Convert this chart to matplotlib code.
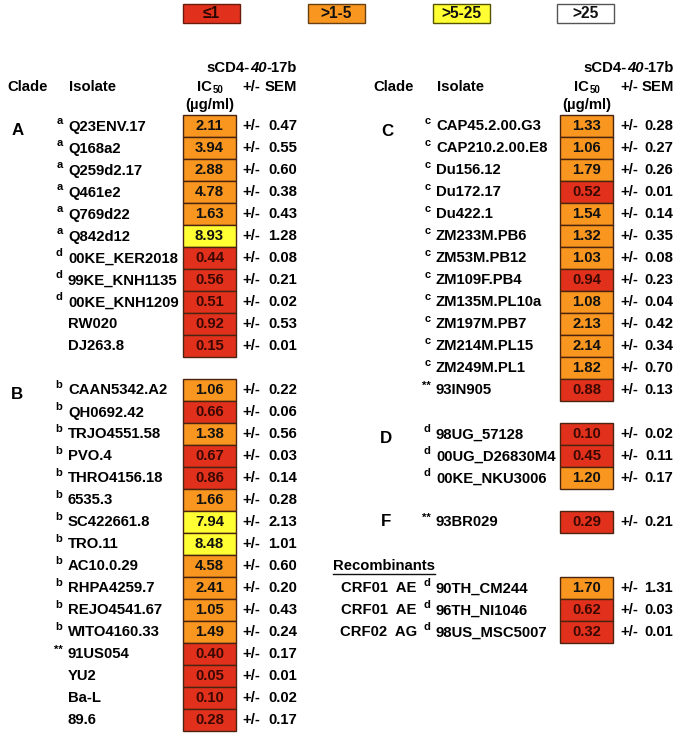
import matplotlib
matplotlib.use("Agg")
import matplotlib.pyplot as plt
from matplotlib.patches import Rectangle

plt.rcParams['font.family'] = ['Liberation Sans', 'DejaVu Sans']
plt.rcParams['font.weight'] = 'bold'

# ---------------- data ----------------
legend_labels = ["≤1", ">1-5", ">5-25", ">25"]

A_names = ["Q23ENV.17", "Q168a2", "Q259d2.17", "Q461e2", "Q769d22", "Q842d12",
           "00KE_KER2018", "99KE_KNH1135", "00KE_KNH1209", "RW020", "DJ263.8"]
A_sup = ["a", "a", "a", "a", "a", "a", "d", "d", "d", "", ""]
A_ic50 = [2.11, 3.94, 2.88, 4.78, 1.63, 8.93, 0.44, 0.56, 0.51, 0.92, 0.15]
A_sem = [0.47, 0.55, 0.60, 0.38, 0.43, 1.28, 0.08, 0.21, 0.02, 0.53, 0.01]

B_names = ["CAAN5342.A2", "QH0692.42", "TRJO4551.58", "PVO.4", "THRO4156.18",
           "6535.3", "SC422661.8", "TRO.11", "AC10.0.29", "RHPA4259.7",
           "REJO4541.67", "WITO4160.33", "91US054", "YU2", "Ba-L", "89.6"]
B_sup = ["b"] * 12 + ["**", "", "", ""]
B_ic50 = [1.06, 0.66, 1.38, 0.67, 0.86, 1.66, 7.94, 8.48, 4.58, 2.41, 1.05,
          1.49, 0.40, 0.05, 0.10, 0.28]
B_sem = [0.22, 0.06, 0.56, 0.03, 0.14, 0.28, 2.13, 1.01, 0.60, 0.20, 0.43,
         0.24, 0.17, 0.01, 0.02, 0.17]

C_names = ["CAP45.2.00.G3", "CAP210.2.00.E8", "Du156.12", "Du172.17", "Du422.1",
           "ZM233M.PB6", "ZM53M.PB12", "ZM109F.PB4", "ZM135M.PL10a",
           "ZM197M.PB7", "ZM214M.PL15", "ZM249M.PL1", "93IN905"]
C_sup = ["c"] * 12 + ["**"]
C_ic50 = [1.33, 1.06, 1.79, 0.52, 1.54, 1.32, 1.03, 0.94, 1.08, 2.13, 2.14,
          1.82, 0.88]
C_sem = [0.28, 0.27, 0.26, 0.01, 0.14, 0.35, 0.08, 0.23, 0.04, 0.42, 0.34,
         0.70, 0.13]

D_names = ["98UG_57128", "00UG_D26830M4", "00KE_NKU3006"]
D_sup = ["d", "d", "d"]
D_ic50 = [0.10, 0.45, 1.20]
D_sem = [0.02, 0.11, 0.17]

F_names = ["93BR029"]
F_sup = ["**"]
F_ic50 = [0.29]
F_sem = [0.21]

R_clades = ["CRF01  AE", "CRF01  AE", "CRF02  AG"]
R_names = ["90TH_CM244", "96TH_NI1046", "98US_MSC5007"]
R_sup = ["d", "d", "d"]
R_ic50 = [1.70, 0.62, 0.32]
R_sem = [1.31, 0.03, 0.01]

# ---------------- style ----------------
RED, ORANGE, YELLOW, WHITE = "#E1311C", "#F8961F", "#FFFF33", "#FFFFFF"
EDGE = "#4a2410"
FS = 10.7
FS_SUP = 8


def cell_color(v):
    if v <= 1:
        return RED
    if v <= 5:
        return ORANGE
    if v <= 25:
        return YELLOW
    return WHITE


def text_color(v):
    return "#3a0800" if v <= 1 else "#111111"


fig = plt.figure(figsize=(6.85, 7.36), dpi=100)
ax = fig.add_axes([0, 0, 1, 1])
ax.set_xlim(0, 685)
ax.set_ylim(736, 0)
ax.axis("off")

# ---------------- legend ----------------
leg_fill = [RED, ORANGE, YELLOW, WHITE]
leg_edge = ["#6a1a0a", "#6a4010", "#555500", "#555555"]
leg_x = [183, 308, 433, 557]
for lab, fc, ec, x in zip(legend_labels, leg_fill, leg_edge, leg_x):
    ax.add_patch(Rectangle((x, 3.5), 57, 19, facecolor=fc, edgecolor=ec, lw=1.0))
    ax.text(x + 28.5, 13.5, lab, ha="center", va="center", fontsize=FS + 0.5,
            color="#111111" if fc != RED else "#2a0500")

renderer = fig.canvas.get_renderer()


def header(x_clade, x_iso, x_ic, x_pm, x_right):
    # sCD4-40-17b, right aligned at x_right
    parts = [("sCD4-", "normal"), ("40", "italic"), ("-17b", "normal")]
    widths = []
    for s, st in parts:
        t = ax.text(0, 0, s, fontsize=FS, style=st)
        bb = t.get_window_extent(renderer)
        widths.append(bb.width)
        t.remove()
    x = x_right - sum(widths)
    for (s, st), w in zip(parts, widths):
        ax.text(x, 68, s, fontsize=FS, style=st, ha="left", va="center")
        x += w
    ax.text(x_clade, 87, "Clade", fontsize=FS, ha="left", va="center")
    ax.text(x_iso, 87, "Isolate", fontsize=FS, ha="left", va="center")
    ax.text(x_ic + 2, 87, "IC", fontsize=FS, ha="right", va="center")
    ax.text(x_ic + 2.5, 90, "50", fontsize=7, ha="left", va="center")
    ax.text(x_ic, 105, "(µg/ml)", fontsize=FS, ha="center", va="center")
    ax.text(x_pm, 87, "+/-", fontsize=FS, ha="left", va="center")
    ax.text(x_right, 87, "SEM", fontsize=FS, ha="right", va="center")


Y0, PITCH = 125.5, 22.0
BOXW = 53


def rows(start, names, sups, ic, sem, x_sup, x_name, x_box, x_pm, x_right):
    for i, (n, s, v, e) in enumerate(zip(names, sups, ic, sem)):
        y = Y0 + (start + i) * PITCH
        ax.add_patch(Rectangle((x_box, y - PITCH / 2), BOXW, PITCH,
                               facecolor=cell_color(v), edgecolor=EDGE, lw=1.0))
        ax.text(x_box + BOXW / 2, y, f"{v:.2f}", fontsize=FS, ha="center",
                va="center", color=text_color(v))
        if s:
            ax.text(x_sup, y - 4, s, fontsize=FS_SUP, ha="right", va="center")
        ax.text(x_name, y + 1, n, fontsize=FS, ha="left", va="center")
        ax.text(x_pm, y, "+/-", fontsize=FS, ha="left", va="center")
        ax.text(x_right, y, f"{e:.2f}", fontsize=FS, ha="right", va="center")


# ---------------- left table ----------------
header(7, 69, 210, 242, 297)
ax.text(18, Y0 + 5, "A", fontsize=FS + 1.5, ha="center", va="center")
rows(0, A_names, A_sup, A_ic50, A_sem, 62.5, 68, 183, 242, 297)
startB = len(A_names) + 1
ax.text(17, Y0 + startB * PITCH + 5, "B", fontsize=FS + 1.5, ha="center", va="center")
rows(startB, B_names, B_sup, B_ic50, B_sem, 62.5, 68, 183, 242, 297)

# ---------------- right table ----------------
header(373, 437, 587, 620, 674)
ax.text(387, Y0 + 6, "C", fontsize=FS + 1.5, ha="center", va="center")
rows(0, C_names, C_sup, C_ic50, C_sem, 430.5, 436, 560, 620, 673)
startD = len(C_names) + 1
ax.text(386, Y0 + startD * PITCH + 5, "D", fontsize=FS + 1.5, ha="center", va="center")
rows(startD, D_names, D_sup, D_ic50, D_sem, 430.5, 436, 560, 620, 673)
startF = startD + len(D_names) + 1
ax.text(386, Y0 + startF * PITCH, "F", fontsize=FS + 1.5, ha="center", va="center")
rows(startF, F_names, F_sup, F_ic50, F_sem, 430.5, 436, 560, 620, 673)
startR = startF + 2
yR = Y0 + startR * PITCH
t = ax.text(333, yR, "Recombinants", fontsize=FS, ha="left", va="center")
bb = t.get_window_extent(renderer)
ax.plot([333, 333 + bb.width], [yR + 8, yR + 8], color="#111111", lw=1.0)
rows(startR + 1, R_names, R_sup, R_ic50, R_sem, 430.5, 436, 560, 620, 673)
for i, c in enumerate(R_clades):
    ax.text(417, Y0 + (startR + 1 + i) * PITCH + 1, c, fontsize=FS,
            ha="right", va="center")

fig.savefig("out.png", dpi=100)
